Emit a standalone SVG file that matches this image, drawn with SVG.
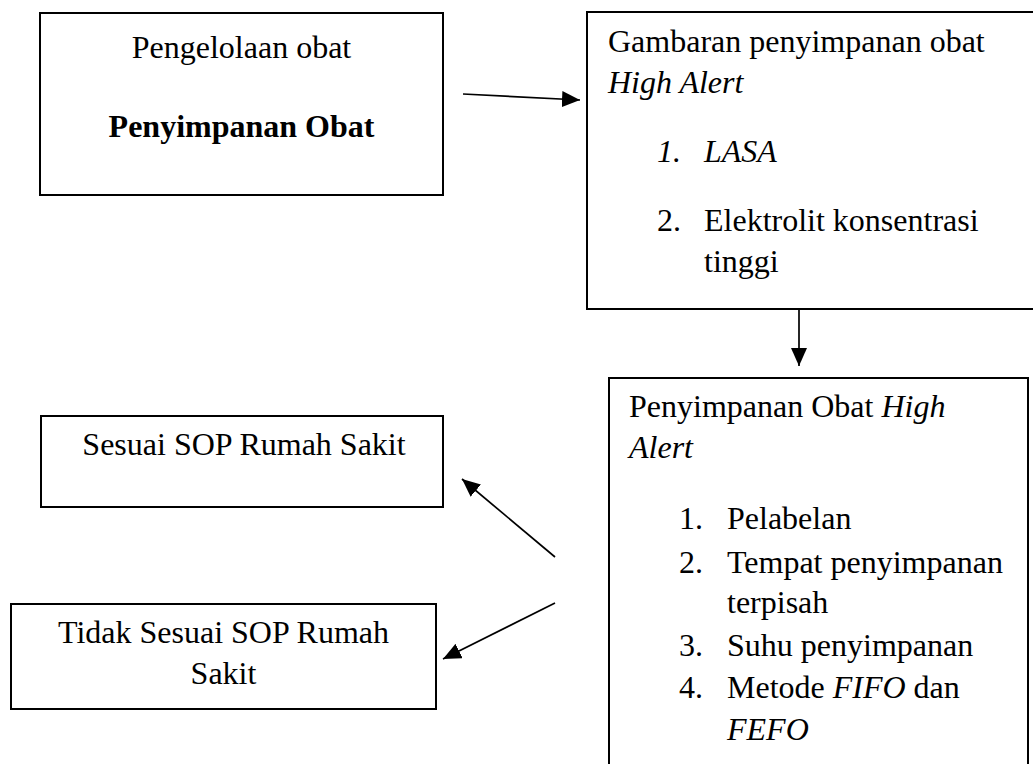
<svg xmlns="http://www.w3.org/2000/svg" width="1033" height="764" viewBox="0 0 1033 764">
<style>
.box{fill:#fff;stroke:#000;stroke-width:2}
.t{font-family:"Liberation Serif","Times New Roman",serif;font-size:32px;fill:#000}
.c{text-anchor:middle}
.i{font-style:italic}
.b{font-weight:bold}
.ln{stroke:#000;stroke-width:1.7;fill:none}
</style>
<defs>
<marker id="ah" markerUnits="userSpaceOnUse" markerWidth="18" markerHeight="16" refX="18" refY="8" orient="auto">
<path d="M0,0 L18,8 L0,16 z" fill="#000"/>
</marker>
</defs>
<rect width="1033" height="764" fill="#fff"/>
<g id="node-pengelolaan">
<rect class="box" x="40" y="13" width="403" height="182"/>
<text class="t c" x="241.5" y="58">Pengelolaan obat</text>
<text class="t c b" x="241.5" y="137">Penyimpanan Obat</text>
</g>
<g id="node-gambaran">
<rect class="box" x="587" y="12" width="460" height="297"/>
<text class="t" x="608" y="52">Gambaran penyimpanan obat</text>
<text class="t i" x="608" y="93">High Alert</text>
<text class="t i" x="657" y="162">1.</text>
<text class="t i" x="704" y="162">LASA</text>
<text class="t" x="657" y="231">2.</text>
<text class="t" x="704" y="231">Elektrolit konsentrasi</text>
<text class="t" x="704" y="272">tinggi</text>
</g>
<g id="node-penyimpanan">
<rect class="box" x="609" y="378" width="419" height="400"/>
<text class="t" x="629" y="417">Penyimpanan Obat <tspan class="i">High</tspan></text>
<text class="t i" x="629" y="458">Alert</text>
<text class="t" x="679" y="529">1.</text>
<text class="t" x="727" y="529">Pelabelan</text>
<text class="t" x="679" y="573">2.</text>
<text class="t" x="727" y="573">Tempat penyimpanan</text>
<text class="t" x="727" y="613">terpisah</text>
<text class="t" x="679" y="656">3.</text>
<text class="t" x="727" y="656">Suhu penyimpanan</text>
<text class="t" x="679" y="698">4.</text>
<text class="t" x="727" y="698">Metode <tspan class="i">FIFO</tspan> dan</text>
<text class="t i" x="727" y="740">FEFO</text>
</g>
<g id="node-sesuai">
<rect class="box" x="41" y="416" width="402" height="91"/>
<text class="t c" x="244" y="455">Sesuai SOP Rumah Sakit</text>
</g>
<g id="node-tidak">
<rect class="box" x="11" y="604" width="425" height="105"/>
<text class="t c" x="223.5" y="643">Tidak Sesuai SOP Rumah</text>
<text class="t c" x="223.5" y="684">Sakit</text>
</g>
<g id="connectors">
<line class="ln" x1="463" y1="94" x2="580" y2="100" marker-end="url(#ah)"/>
<line class="ln" x1="799" y1="309" x2="799" y2="366" marker-end="url(#ah)"/>
<line class="ln" x1="555" y1="557" x2="462" y2="479" marker-end="url(#ah)"/>
<line class="ln" x1="555" y1="603" x2="443" y2="659" marker-end="url(#ah)"/>
</g>
</svg>
